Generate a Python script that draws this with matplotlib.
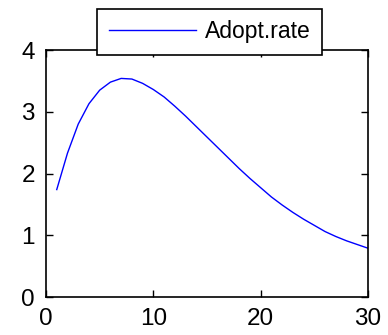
import matplotlib
matplotlib.use("Agg")
import matplotlib.pyplot as plt

t = list(range(1, 31))
adopt_rate = [1.74, 2.33, 2.80, 3.13, 3.35, 3.48, 3.54, 3.53, 3.46, 3.36,
              3.24, 3.09, 2.93, 2.76, 2.59, 2.42, 2.25, 2.08, 1.92, 1.77,
              1.62, 1.49, 1.37, 1.26, 1.16, 1.06, 0.98, 0.91, 0.85, 0.79]
xticks = [0, 10, 20, 30]
yticks = [0, 1, 2, 3, 4]

plt.rcParams['font.family'] = ['Liberation Sans', 'DejaVu Sans']

fig = plt.figure(figsize=(3.88, 3.35), dpi=100)
ax = fig.add_axes([0.1186, 0.1134, 0.8299, 0.7373])
ax.plot(t, adopt_rate, color='#0000ff', lw=1.0, label='Adopt.rate')
ax.set_xlim(0, 30)
ax.set_ylim(0, 4)
ax.set_xticks(xticks)
ax.set_yticks(yticks)
ax.tick_params(direction='in', length=5, width=1, top=True, right=True,
               labelsize=17.5)
ax.tick_params(axis='x', pad=8)
ax.tick_params(axis='y', pad=8)
for s in ax.spines.values():
    s.set_linewidth(1.2)
leg = ax.legend(loc='center', bbox_to_anchor=(0.541, 0.9045),
                bbox_transform=fig.transFigure, fontsize=16.5,
                fancybox=False, framealpha=1, edgecolor='black',
                handlelength=3.8, borderpad=0.5, handletextpad=0.4,
                borderaxespad=0)
leg.get_frame().set_linewidth(1.2)
leg.set_zorder(10)
fig.savefig('out.png', dpi=100)
